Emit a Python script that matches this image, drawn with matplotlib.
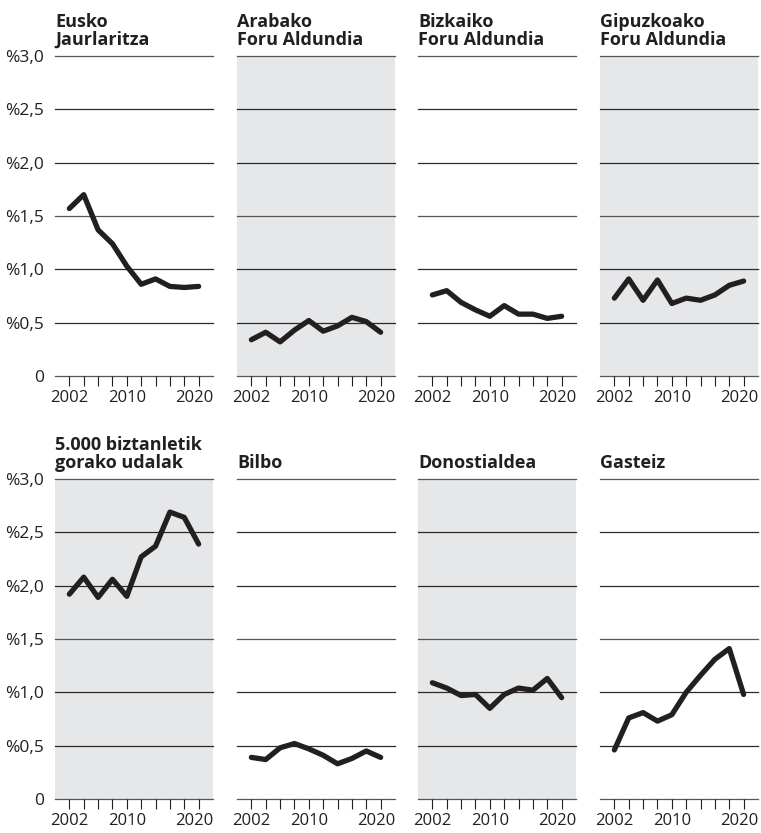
import matplotlib.pyplot as plt
import matplotlib.transforms as mtransforms
import numpy as np

# datuak (irudian irakurrita)
years = [2002, 2004, 2006, 2008, 2010, 2012, 2014, 2016, 2018, 2020]
titles = [
    "Eusko\nJaurlaritza", "Arabako\nForu Aldundia", "Bizkaiko\nForu Aldundia", "Gipuzkoako\nForu Aldundia",
    "5.000 biztanletik\ngorako udalak", "Bilbo", "Donostialdea", "Gasteiz",
]
eusko = [1.57, 1.70, 1.37, 1.24, 1.03, 0.86, 0.91, 0.84, 0.83, 0.84]
araba = [0.34, 0.41, 0.32, 0.43, 0.52, 0.42, 0.47, 0.55, 0.51, 0.41]
bizkaia = [0.76, 0.80, 0.69, 0.62, 0.56, 0.66, 0.58, 0.58, 0.54, 0.56]
gipuzkoa = [0.73, 0.91, 0.71, 0.90, 0.68, 0.73, 0.71, 0.76, 0.85, 0.89]
udalak = [1.92, 2.08, 1.89, 2.06, 1.90, 2.27, 2.37, 2.69, 2.64, 2.39]
bilbo = [0.39, 0.37, 0.48, 0.52, 0.47, 0.41, 0.33, 0.38, 0.45, 0.39]
donostialdea = [1.09, 1.04, 0.97, 0.98, 0.85, 0.98, 1.04, 1.02, 1.13, 0.95]
gasteiz = [0.46, 0.76, 0.81, 0.73, 0.79, 1.00, 1.16, 1.31, 1.41, 0.98]
series = [eusko, araba, bizkaia, gipuzkoa, udalak, bilbo, donostialdea, gasteiz]

y_ticks = [0, 0.5, 1.0, 1.5, 2.0, 2.5, 3.0]
y_labels = ["0", "%0,5", "%1,0", "%1,5", "%2,0", "%2,5", "%3,0"]
x_labels = {2002: "2002", 2010: "2010", 2020: "2020"}

plt.rcParams['font.family'] = ['Open Sans', 'DejaVu Sans']
ink = '#231f20'
grey_bg = '#e6e7e8'

fig = plt.figure(figsize=(7.61, 8.33), dpi=100)

W, H = 761, 833
lefts = [55, 237, 418, 600]
tops = [56, 479]
aw, ah = 158, 320

for i, (title, vals) in enumerate(zip(titles, series)):
    r, c = divmod(i, 4)
    ax = fig.add_axes([lefts[c] / W, 1 - (tops[r] + ah) / H, aw / W, ah / H])
    shaded = (r + c) % 2 == 1
    ax.set_facecolor(grey_bg if shaded else 'white')
    for s in ax.spines.values():
        s.set_visible(False)
    for yv in y_ticks:
        ax.axhline(yv, color='#555555' if yv in (0, 1.5, 3.0) else '#2a2a2a',
                   lw=0.9, zorder=1, clip_on=False)
    ax.plot(years, vals, color=ink, lw=3.8, solid_joinstyle='round',
            solid_capstyle='round', zorder=3, clip_on=False)
    ax.set_xlim(2000, 2022)
    ax.set_ylim(0, 3.0)
    ax.set_xticks(years)
    ax.set_xticklabels([x_labels.get(y, "") for y in years])
    ax.tick_params(axis='x', length=7, width=0.8, color=ink, labelsize=12,
                   labelcolor=ink, pad=3)
    # azken etiketa pixka bat ezkerrera
    last = ax.get_xticklabels()[-1]
    last.set_transform(last.get_transform() +
                       mtransforms.ScaledTranslation(-4 / 100, 0, fig.dpi_scale_trans))
    ax.set_yticks(y_ticks)
    if c == 0:
        ax.set_yticklabels(y_labels)
        ax.tick_params(axis='y', length=0, labelsize=12.5, labelcolor=ink, pad=8)
    else:
        ax.set_yticklabels([])
        ax.tick_params(axis='y', length=0)
    ax.text(0, 1.0 + 7 / ah, title, transform=ax.transAxes, ha='left', va='bottom',
            fontsize=13, fontweight='bold', color=ink, linespacing=1.0)

fig.savefig("out.png", dpi=100)
